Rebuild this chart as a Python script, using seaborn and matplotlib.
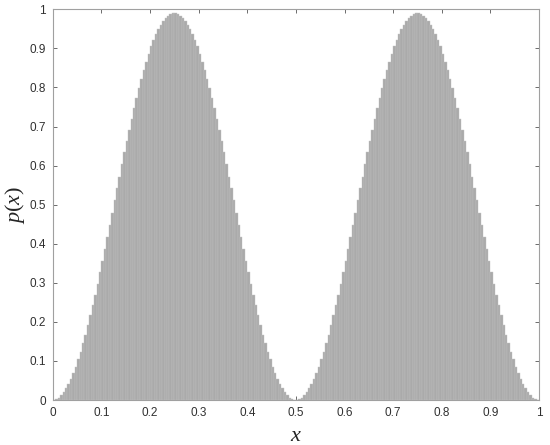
import numpy as np
import matplotlib
matplotlib.use("Agg")
import matplotlib.pyplot as plt
import seaborn as sns

# bin centres on [0, 1], 200 bins
x_centres = np.linspace(0.0025, 0.9975, 200)

# p(x) (two humps, peaks near x=0.25 and x=0.75)
p_values = [
    0.000, 0.002, 0.006, 0.012, 0.020, 0.030, 0.041, 0.053, 0.069, 0.085,
    0.104, 0.124, 0.145, 0.167, 0.192, 0.217, 0.243, 0.270, 0.298, 0.328,
    0.356, 0.387, 0.418, 0.448, 0.479, 0.511, 0.542, 0.572, 0.603, 0.634,
    0.662, 0.692, 0.720, 0.747, 0.773, 0.798, 0.823, 0.845, 0.866, 0.886,
    0.905, 0.921, 0.937, 0.949, 0.960, 0.970, 0.978, 0.984, 0.988, 0.990,
    0.990, 0.988, 0.984, 0.978, 0.970, 0.960, 0.949, 0.937, 0.921, 0.905,
    0.886, 0.866, 0.845, 0.823, 0.798, 0.773, 0.747, 0.720, 0.692, 0.662,
    0.634, 0.603, 0.572, 0.542, 0.511, 0.479, 0.448, 0.418, 0.387, 0.356,
    0.328, 0.298, 0.270, 0.243, 0.217, 0.192, 0.167, 0.145, 0.124, 0.104,
    0.085, 0.069, 0.053, 0.041, 0.030, 0.020, 0.012, 0.006, 0.002, 0.000,
    0.000, 0.002, 0.006, 0.012, 0.020, 0.030, 0.041, 0.053, 0.069, 0.085,
    0.104, 0.124, 0.145, 0.167, 0.192, 0.217, 0.243, 0.270, 0.298, 0.328,
    0.356, 0.387, 0.418, 0.448, 0.479, 0.511, 0.542, 0.572, 0.603, 0.634,
    0.662, 0.692, 0.720, 0.747, 0.773, 0.798, 0.823, 0.845, 0.866, 0.886,
    0.905, 0.921, 0.937, 0.949, 0.960, 0.970, 0.978, 0.984, 0.988, 0.990,
    0.990, 0.988, 0.984, 0.978, 0.970, 0.960, 0.949, 0.937, 0.921, 0.905,
    0.886, 0.866, 0.845, 0.823, 0.798, 0.773, 0.747, 0.720, 0.692, 0.662,
    0.634, 0.603, 0.572, 0.542, 0.511, 0.479, 0.448, 0.418, 0.387, 0.356,
    0.328, 0.298, 0.270, 0.243, 0.217, 0.192, 0.167, 0.145, 0.124, 0.104,
    0.085, 0.069, 0.053, 0.041, 0.030, 0.020, 0.012, 0.006, 0.002, 0.000,
]

tick_vals = [0, 0.1, 0.2, 0.3, 0.4, 0.5, 0.6, 0.7, 0.8, 0.9, 1]
tick_labels = ["0", "0.1", "0.2", "0.3", "0.4", "0.5", "0.6", "0.7", "0.8", "0.9", "1"]

sns.set_style("white")
plt.rcParams["font.family"] = ["Liberation Sans", "DejaVu Sans"]
plt.rcParams["mathtext.fontset"] = "custom"
plt.rcParams["mathtext.it"] = "Liberation Serif:italic"
plt.rcParams["mathtext.rm"] = "Liberation Serif"

fig = plt.figure(figsize=(5.5, 4.45), dpi=100)
ax = fig.add_axes([0.096, 0.101, 0.884, 0.878])

sns.histplot(
    x=x_centres, weights=p_values, bins=200, binrange=(0, 1),
    stat="count", color="#aaaaaa", edgecolor="#c2c2c2", linewidth=0.3,
    alpha=1.0, ax=ax,
)

ax.set_xlim(0, 1)
ax.set_ylim(0, 1)
ax.set_xticks(tick_vals)
ax.set_xticklabels(tick_labels)
ax.set_yticks(tick_vals)
ax.set_yticklabels(tick_labels)
ax.tick_params(direction="in", length=3, width=0.6, colors="#555555",
               labelsize=8.5, labelcolor="#303030", top=True, right=True,
               bottom=True, left=True, pad=5)

for s in ax.spines.values():
    s.set_visible(True)
    s.set_color("#a0a0a0")
    s.set_linewidth(0.8)

ax.set_xlabel("$x$", fontsize=16, labelpad=4)
ax.set_ylabel("$p(x)$", fontsize=16, labelpad=2)

fig.savefig("out.png", dpi=100)
